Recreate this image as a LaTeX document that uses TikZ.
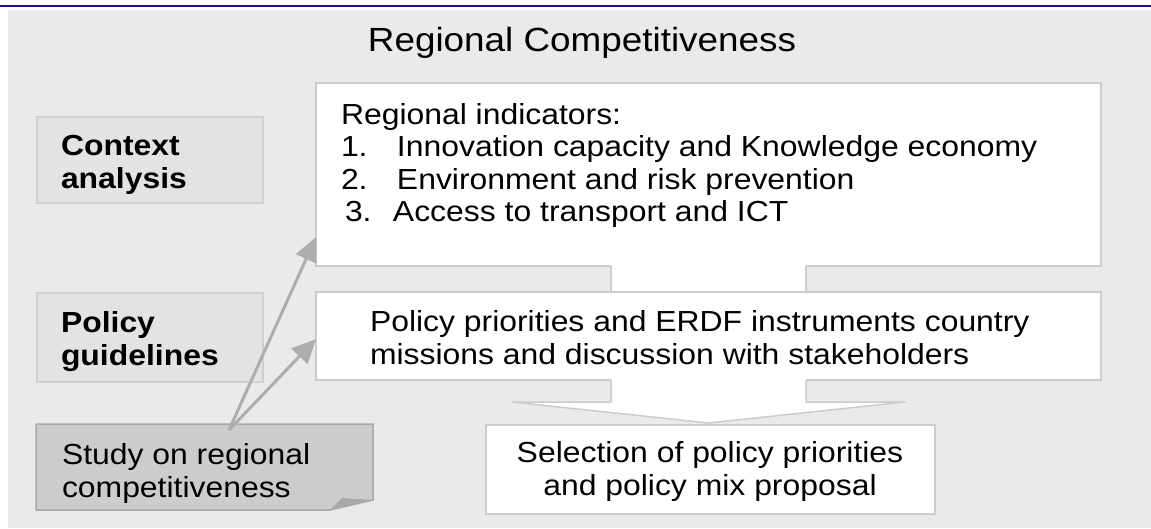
\documentclass[tikz,border=0pt]{standalone}
\usepackage{fontspec}
\setmainfont{Liberation Sans}[FakeStretch=1.1]
\usepackage{tikz}
\usetikzlibrary{arrows.meta}

\definecolor{navy}{RGB}{20,22,140}
\definecolor{panel}{RGB}{234,234,234}
\definecolor{edge}{RGB}{204,204,204}
\definecolor{lblfill}{RGB}{227,227,227}
\definecolor{lbledge}{RGB}{207,207,207}
\definecolor{studyfill}{RGB}{204,204,204}
\definecolor{studyedge}{RGB}{168,168,168}
\definecolor{arr}{RGB}{173,173,173}

\begin{document}
\begin{tikzpicture}
[x=1pt,y=-1pt,every node/.style={inner sep=0pt,outer sep=0pt},
 box/.style={draw=edge,line width=1.5pt,fill=white,anchor=north west},
 lbl/.style={draw=lbledge,line width=1.5pt,fill=lblfill,anchor=north west},
 txt/.style={anchor=base west,align=left,font=\fontsize{29}{32.5}\selectfont},
 feed/.style={draw=arr,line width=3pt,-{Triangle[length=24pt,width=22pt]}}]
\useasboundingbox (0,0) rectangle (1151,528);
\fill[panel] (8,10) rectangle (1151,528);
\draw[navy,line width=2pt] (0,5.5) -- (1151,5.5);
\node[font=\fontsize{33.5}{40}\selectfont,anchor=base] (title) at (582,51.7) {Regional Competitiveness};

% left column (base = last line)
\node[lbl,minimum width=226pt,minimum height=86pt] (ctx) at (37,117) {};
\node[lbl,minimum width=226pt,minimum height=89pt] (pg) at (37,293) {};
\node[txt,font=\fontsize{29}{33}\selectfont\bfseries] (ctxt) at (61,188) {Context\\analysis};
\node[txt,font=\fontsize{29}{33}\selectfont\bfseries] (pgt) at (61,365) {Policy\\guidelines};

% indicators box and first block arrow
\node[box,minimum width=785pt,minimum height=183pt] (ind) at (316,83) {};
\fill[white] ([xshift=-97.5pt,yshift=2pt]ind.south) rectangle ([xshift=97.5pt,yshift=-26pt]ind.south);
\draw[edge,line width=1.5pt] ([xshift=-97.5pt]ind.south) -- ++(0,26);
\draw[edge,line width=1.5pt] ([xshift=97.5pt]ind.south) -- ++(0,26);
\node[txt] (indt) at (341,221.7) {Regional indicators:\\
  \makebox[56pt][l]{1.}Innovation capacity and Knowledge economy\\
  \makebox[56pt][l]{2.}Environment and risk prevention\\
  \hspace*{4pt}\makebox[48pt][l]{3.}Access to transport and ICT};

% policy box, selection box
\node[box,minimum width=785pt,minimum height=88pt] (pol) at (316,292) {};
\node[txt] (polt) at (370,364) {Policy priorities and ERDF instruments country\\missions and discussion with stakeholders};
\node[box,minimum width=449pt,minimum height=89pt] (sel) at (486,425) {};

% second block arrow
\coordinate (tip) at ([yshift=-43pt]pol.south);
\fill[white] ([xshift=-97.5pt,yshift=2pt]pol.south) -- ++(0,24) -- ++(-99,0) -- (tip)
  -- ([xshift=196.5pt,yshift=-22pt]pol.south) -- ++(-99,0) -- ([xshift=97.5pt,yshift=2pt]pol.south) -- cycle;
\draw[edge,line width=1.5pt,line join=round] ([xshift=-97.5pt]pol.south) -- ++(0,22) -- ++(-99,0) -- (tip)
  -- ([xshift=196.5pt,yshift=-22pt]pol.south) -- ++(-99,0) -- ++(0,-22);
\node[txt,align=center,anchor=base] (selt) at (710,495) {Selection of policy priorities\\and policy mix proposal};

% study note with folded corner
\node[minimum width=337pt,minimum height=86pt,anchor=north west] (stu) at (36,424) {};
\filldraw[fill=studyfill,draw=studyedge,line width=1.5pt] (stu.north west) -- (stu.north east)
  -- ([yshift=10pt]stu.south east) -- ([xshift=-43pt]stu.south east) -- (stu.south west) -- cycle;
\fill[studyedge] ([xshift=-43pt]stu.south east) -- ([xshift=-31pt,yshift=12pt]stu.south east)
  -- ([yshift=10pt]stu.south east) -- cycle;
\node[txt] (stut) at (62,497) {Study on regional\\competitiveness};

% feedback arrows
\coordinate (src) at (229,430);
\draw[feed] (src) -- ([yshift=29pt]ind.south west);
\draw[feed] (src) -- ([yshift=-3pt]pol.west);
\end{tikzpicture}
\end{document}
